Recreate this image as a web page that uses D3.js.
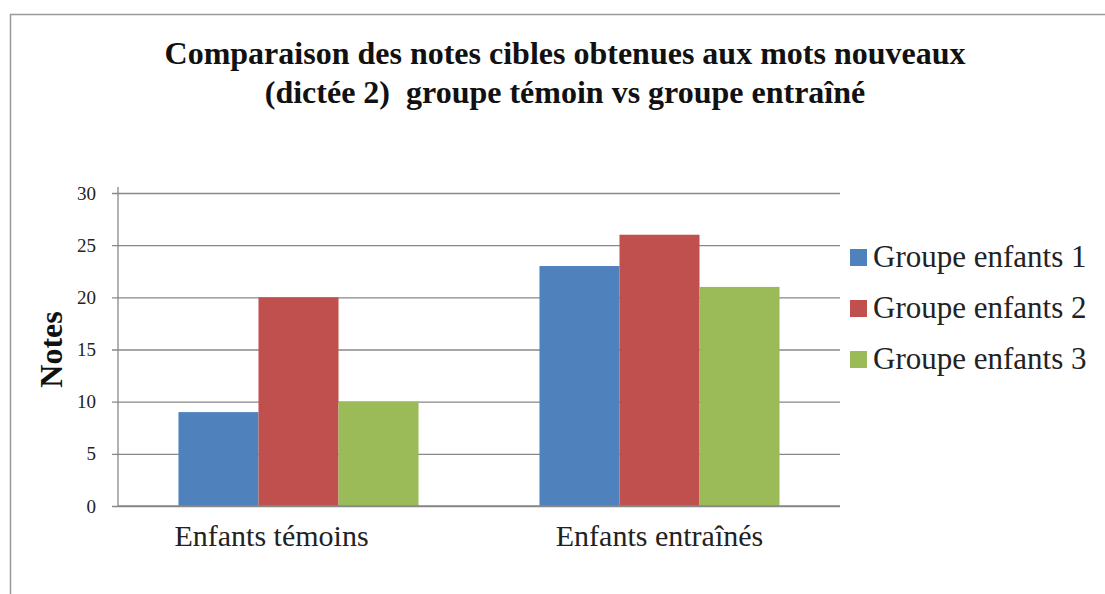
<!DOCTYPE html>
<html>
<head>
<meta charset="utf-8">
<script src="https://cdn.jsdelivr.net/npm/d3@7"></script>
<style>
  body { margin: 0; background: #fff; }
  svg { display: block; }
</style>
</head>
<body>
<div id="chart"></div>
<script>
// chart data
const categories = ['Enfants témoins', 'Enfants entraînés'];
const seriesNames = ['Groupe enfants 1', 'Groupe enfants 2', 'Groupe enfants 3'];
const groupe1 = [9, 23];
const groupe2 = [20, 26];
const groupe3 = [10, 21];
const yTicks = [0, 5, 10, 15, 20, 25, 30];
const titleLines = ['Comparaison des notes cibles obtenues aux mots nouveaux', '(dictée 2)  groupe témoin vs groupe entraîné'];
const colors = ['#4F81BD', '#C0504D', '#9BBB59'];

const width = 1105, height = 594;
const serif = '"Liberation Serif", "DejaVu Serif", serif';

const svg = d3.select('#chart')
    .append('svg')
    .attr('width', width)
    .attr('height', height);

// outer frame (runs off the right and bottom edge)
svg.append('rect')
    .attr('x', 10.5)
    .attr('y', 14.5)
    .attr('width', width + 20)
    .attr('height', height + 20)
    .attr('fill', 'none')
    .attr('stroke', '#999')
    .attr('stroke-width', 1.5);

const margin = { top: 193, left: 118 };
const plotW = 722, plotH = 313;

const chart = svg.append('g')
    .attr('transform', `translate(${margin.left},${margin.top})`);

const x0 = d3.scaleBand()
    .domain(categories)
    .range([0, plotW])
    .paddingInner(0.335)
    .paddingOuter(0.1675);

const x1 = d3.scaleBand()
    .domain(seriesNames)
    .range([0, x0.bandwidth()]);

const y = d3.scaleLinear()
    .domain([0, 30])
    .range([plotH, 0]);

// gridlines + tick marks
const yAxis = d3.axisLeft(y)
    .tickValues(yTicks)
    .tickSize(-plotW)
    .tickPadding(22)
    .tickFormat(d3.format('d'));

const gy = chart.append('g')
    .classed('y axis', true)
    .call(yAxis);
gy.select('.domain').remove();
gy.selectAll('.tick line')
    .attr('x1', -6)
    .attr('stroke', '#888')
    .attr('stroke-width', 1.3);
gy.selectAll('.tick text')
    .attr('fill', '#222')
    .style('font-family', serif)
    .style('font-size', '19px');

// vertical axis line
chart.append('line')
    .attr('x1', 0).attr('x2', 0)
    .attr('y1', -6).attr('y2', plotH)
    .attr('stroke', '#888')
    .attr('stroke-width', 1.3);

const data = categories.map((c, i) => ({
    cat: c,
    values: [groupe1[i], groupe2[i], groupe3[i]]
}));

chart.selectAll('.group')
    .data(data)
    .enter()
    .append('g')
    .classed('group', true)
    .attr('transform', d => `translate(${x0(d.cat)},0)`)
    .selectAll('rect')
    .data(d => d.values.map((v, j) => ({ name: seriesNames[j], value: v, color: colors[j] })))
    .enter()
    .append('rect')
    .attr('x', d => x1(d.name))
    .attr('y', d => y(d.value))
    .attr('width', x1.bandwidth())
    .attr('height', d => plotH - y(d.value))
    .attr('fill', d => d.color);

// x axis line drawn over bars
chart.append('line')
    .attr('x1', 0).attr('x2', plotW)
    .attr('y1', plotH).attr('y2', plotH)
    .attr('stroke', '#888')
    .attr('stroke-width', 1.3);

// category labels (the first one sits a bit left of its group in the original)
chart.selectAll('.cat-label')
    .data(categories)
    .enter()
    .append('text')
    .classed('cat-label', true)
    .attr('x', d => x0(d) + x0.bandwidth() / 2)
    .attr('dx', (d, i) => i === 0 ? -27 : 0)
    .attr('y', plotH + 40)
    .attr('text-anchor', 'middle')
    .attr('fill', '#222')
    .style('font-family', serif)
    .style('font-size', '30px')
    .text(d => d);

// y axis title
svg.append('text')
    .attr('transform', `translate(62, ${margin.top + plotH / 2}) rotate(-90)`)
    .attr('text-anchor', 'middle')
    .attr('fill', '#111')
    .style('font-family', serif)
    .style('font-weight', 'bold')
    .style('font-size', '32px')
    .text('Notes');

// title
svg.selectAll('.title')
    .data(titleLines)
    .enter()
    .append('text')
    .classed('title', true)
    .attr('x', 565)
    .attr('y', (d, i) => 64 + i * 39)
    .attr('text-anchor', 'middle')
    .attr('fill', '#111')
    .style('font-family', serif)
    .style('font-weight', 'bold')
    .style('font-size', '32px')
    .style('white-space', 'pre')
    .text(d => d);

// legend
const legend = svg.selectAll('.legend')
    .data(seriesNames)
    .enter()
    .append('g')
    .classed('legend', true)
    .attr('transform', (d, i) => `translate(850, ${257 + i * 51})`);

legend.append('rect')
    .attr('x', 0)
    .attr('y', -8)
    .attr('width', 17)
    .attr('height', 17)
    .attr('fill', (d, i) => colors[i]);

legend.append('text')
    .attr('x', 23)
    .attr('y', 10)
    .attr('fill', '#222')
    .style('font-family', serif)
    .style('font-size', '31px')
    .text(d => d);
</script>
</body>
</html>
